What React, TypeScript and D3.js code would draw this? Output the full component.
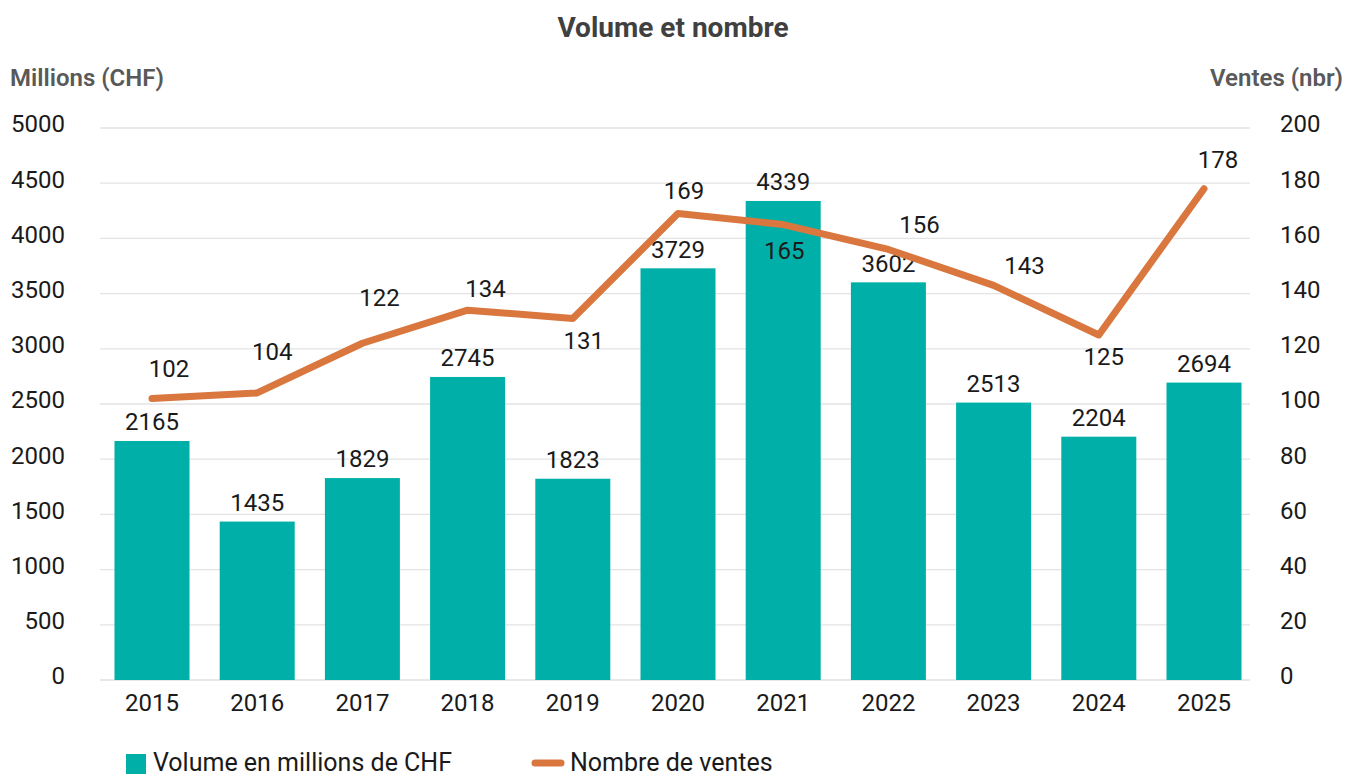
import React from "react";
import * as d3 from "d3";

const years = ["2015","2016","2017","2018","2019","2020","2021","2022","2023","2024","2025"];
const volume = [2165,1435,1829,2745,1823,3729,4339,3602,2513,2204,2694];
const ventes = [102,104,122,134,131,169,165,156,143,125,178];
const leftTicks = [0,500,1000,1500,2000,2500,3000,3500,4000,4500,5000];
const rightTicks = [0,20,40,60,80,100,120,140,160,180,200];
// label layout for line values: [dx, dy] relative to point
const lineLabelOffset: [number, number][] = [
  [17,-30],[15,-41],[17,-46],[18,-22],[11,22],[6,-23],[1,26],[31,-25],[31,-20],[5,22],[14,-29]
];

const W = 1348, H = 777;
const FONT = "Roboto, 'DejaVu Sans', sans-serif";
const NUM = 24;

export default function App() {
  const x = d3.scaleBand<string>().domain(years).range([99.4, 1256.6]).paddingInner(0.287).paddingOuter(0.1435);
  const yL = d3.scaleLinear().domain([0, 5000]).range([680, 128]);
  const yR = d3.scaleLinear().domain([0, 200]).range([680, 128]);
  const cx = (d: string) => (x(d) as number) + x.bandwidth() / 2;
  const line = d3.line<number>().x((_, i) => cx(years[i])).y(v => yR(v));

  return (
    <svg width={W} height={H} style={{ position: "absolute", left: 0, top: 0 }} fontFamily={FONT}>
      <rect width={W} height={H} fill="#fff" />
      <text x={673} y={27} dy="0.35em" textAnchor="middle" fontSize={28} fontWeight={700} fill="#404040">Volume et nombre</text>
      <text x={10} y={78} dy="0.35em" fontSize={24} fontWeight={600} fill="#595959">Millions (CHF)</text>
      <text x={1343} y={78} dy="0.35em" textAnchor="end" fontSize={24} fontWeight={600} fill="#595959">Ventes (nbr)</text>

      {leftTicks.filter(t => t > 0).map(t => (
        <line key={"g" + t} x1={100} x2={1250} y1={yL(t)} y2={yL(t)} stroke="#e3e3e3" strokeWidth={1.3} />
      ))}
      <line x1={100} x2={1250} y1={680} y2={680} stroke="#e0e0e0" strokeWidth={1.5} />

      {leftTicks.map(t => (
        <text key={"l" + t} x={65} y={yL(t) - 4} dy="0.35em" textAnchor="end" fontSize={NUM} fill="#1a1a1a">{t}</text>
      ))}
      {rightTicks.map(t => (
        <text key={"r" + t} x={1280} y={yR(t) - 4} dy="0.35em" textAnchor="start" fontSize={NUM} fill="#1a1a1a">{t}</text>
      ))}

      {years.map((yr, i) => (
        <g key={yr}>
          <rect x={x(yr)} y={yL(volume[i])} width={x.bandwidth()} height={680 - yL(volume[i])} fill="#00B0A8" />
          <text x={cx(yr)} y={yL(volume[i]) - 19} dy="0.35em" textAnchor="middle" fontSize={NUM} fill="#1a1a1a">{volume[i]}</text>
          <text x={cx(yr)} y={703} dy="0.35em" textAnchor="middle" fontSize={NUM} fill="#1a1a1a">{yr}</text>
        </g>
      ))}

      <path d={line(ventes) || ""} fill="none" stroke="#D9773F" strokeWidth={7} strokeLinejoin="round" strokeLinecap="round" />
      {ventes.map((v, i) => (
        <text key={"v" + i} x={cx(years[i]) + lineLabelOffset[i][0]} y={yR(v) + lineLabelOffset[i][1]} dy="0.35em" textAnchor="middle" fontSize={NUM} fill="#1a1a1a">{v}</text>
      ))}

      <rect x={126} y={754} width={20} height={20} fill="#00B0A8" />
      <text x={153} y={762} dy="0.35em" fontSize={25} fill="#1a1a1a">Volume en millions de CHF</text>
      <line x1={535} x2={561} y1={763} y2={763} stroke="#D9773F" strokeWidth={7} strokeLinecap="round" />
      <text x={570} y={762} dy="0.35em" fontSize={25} fill="#1a1a1a">Nombre de ventes</text>
    </svg>
  );
}
